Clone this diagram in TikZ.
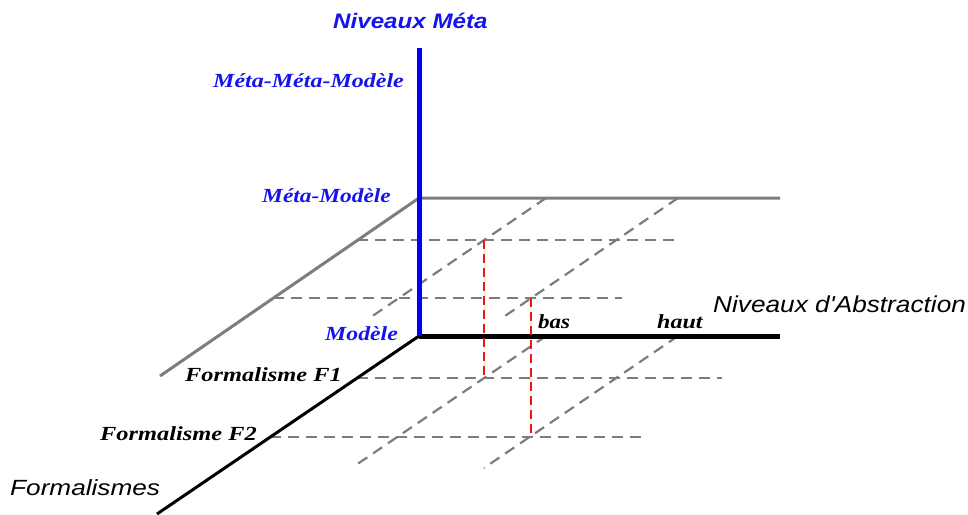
\documentclass[tikz,border=0pt]{standalone}
\usepackage{fontspec}
\newfontfamily\arialf{Liberation Sans}
\newfontfamily\tnrf{Liberation Serif}
\definecolor{axblue}{RGB}{0,0,255}
\definecolor{txtblue}{RGB}{20,20,235}
\definecolor{planegray}{RGB}{125,125,125}
\definecolor{dashgray}{RGB}{125,125,125}
\definecolor{redd}{RGB}{240,20,20}
\begin{document}
\begin{tikzpicture}[x=1pt,y=-1pt,
  lab/.style={inner sep=0pt, anchor=base west},
  serifb/.style={lab, font=\tnrf\bfseries\itshape\fontsize{20}{20}\selectfont},
  gdash/.style={draw=dashgray, line width=2.2pt, dash pattern=on 11pt off 7pt},
  rdash/.style={draw=redd, line width=2.6pt, dash pattern=on 9pt off 5pt},
  planeline/.style={draw=planegray, line width=3pt},
  axline/.style={draw=black, line width=3pt}]
\useasboundingbox (0,0) rectangle (968,514);
% key points
\coordinate (O1) at (419,198);
\coordinate (O0) at (419,336);
\coordinate (G1e) at (780,198);
\coordinate (G2e) at (160,376);
\coordinate (B1e) at (780,336);
\coordinate (B2e) at (157,514);
\coordinate (Btop) at (419,48);
% upper plane dashed lines
\coordinate (u1s) at (357,240); \coordinate (u1e) at (680,240);
\coordinate (u2s) at (273,298); \coordinate (u2e) at (622,298);
\coordinate (ud1s) at (546,198); \coordinate (ud1e) at (371,317);
\coordinate (ud2s) at (678,198); \coordinate (ud2e) at (502,318);
% lower plane dashed lines
\coordinate (l1s) at (357,378); \coordinate (l1e) at (722,378);
\coordinate (l2s) at (270,437); \coordinate (l2e) at (642,437);
\coordinate (ld1s) at (546,336); \coordinate (ld1e) at (353,467);
\coordinate (ld2s) at (678,336); \coordinate (ld2e) at (484,468);
% red verticals
\coordinate (r1t) at (484,240); \coordinate (r1b) at (484,378);
\coordinate (r2t) at (531,298); \coordinate (r2b) at (531,437);

\draw[gdash] (u1s) -- (u1e);
\draw[gdash] (u2s) -- (u2e);
\draw[gdash] (ud1s) -- (ud1e);
\draw[gdash] (ud2s) -- (ud2e);
\draw[gdash] (l1s) -- (l1e);
\draw[gdash] (l2s) -- (l2e);
\draw[gdash] (ld1s) -- (ld1e);
\draw[gdash] (ld2s) -- (ld2e);

\draw[planeline] (G2e) -- (O1) -- (G1e);
\draw[axline] (B2e) -- (O0);
\draw[draw=black, line width=5pt] (O0) -- (B1e);
\draw[draw=axblue, line width=5pt] (Btop) -- (O0);

\draw[rdash] (r1t) -- (r1b);
\draw[rdash] (r2t) -- (r2b);

% labels
\node[lab, text=txtblue, font=\arialf\bfseries\itshape\fontsize{21}{21}\selectfont] (nm) at (333,28) {\scalebox{1.15}[1]{Niveaux Méta}};
\node[serifb, text=txtblue] (mmm) at (213,87) {\scalebox{1.2}[1]{Méta-Méta-Modèle}};
\node[serifb, text=txtblue] (mm) at (262,202) {\scalebox{1.17}[1]{Méta-Modèle}};
\node[serifb, text=txtblue] (m) at (325,340) {\scalebox{1.19}[1]{Modèle}};
\node[serifb] (f1) at (185,381) {\scalebox{1.22}[1]{Formalisme F1}};
\node[serifb] (f2) at (100,440) {\scalebox{1.22}[1]{Formalisme F2}};
\node[serifb] (bas) at (538,328) {\scalebox{1.15}[1]{bas}};
\node[serifb] (haut) at (657,328) {\scalebox{1.2}[1]{haut}};
\node[lab, font=\arialf\itshape\fontsize{23}{23}\selectfont] (na) at (713,312) {\scalebox{1.14}[1]{Niveaux d'Abstraction}};
\node[lab, font=\arialf\itshape\fontsize{22}{22}\selectfont] (fo) at (10,495) {\scalebox{1.19}[1]{Formalismes}};
\end{tikzpicture}
\end{document}
